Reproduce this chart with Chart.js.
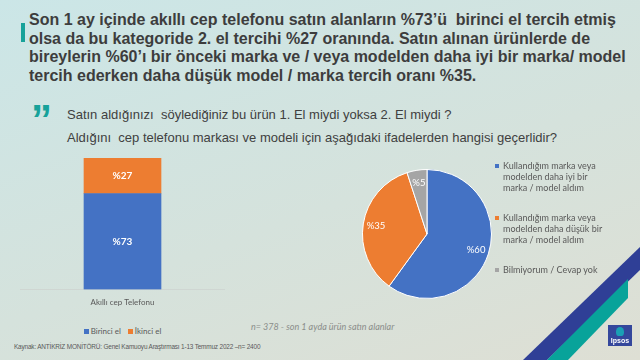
<!DOCTYPE html>
<html><head><meta charset="utf-8">
<script src="https://cdn.jsdelivr.net/npm/chart.js@4.4.0/dist/chart.umd.min.js"></script>
<style>
html,body{margin:0;padding:0;}
body{width:640px;height:360px;overflow:hidden;position:relative;
  background:linear-gradient(160deg,#cbe6e7 0%,#d5e2dc 55%,#dedfd4 100%);
  font-family:"Liberation Sans",Arial,sans-serif;}
.abs{position:absolute;}
#accent{left:21px;top:23px;width:4px;height:19px;background:#17a29a;}
#title{left:29px;top:11px;font-weight:bold;font-size:16px;line-height:18.5px;color:#3d3d3d;white-space:pre;}
#quote{left:31px;top:99px;font-weight:bold;font-size:42px;line-height:42px;color:#17a29a;}
#question{left:67px;top:103px;font-size:13px;line-height:23px;color:#404040;white-space:pre;}
#barLegend{left:40px;top:326px;width:165px;display:flex;justify-content:center;gap:7px;
  font-family:Lato,"Open Sans",sans-serif;font-size:8px;color:#595959;line-height:10px;}
.li{display:flex;align-items:center;}
.sq{display:inline-block;width:5px;height:5px;margin-right:2px;}
#pieLegend{left:495px;top:160px;font-family:Lato,"Open Sans",sans-serif;font-size:9px;line-height:11px;color:#595959;}
.pitem{position:relative;padding-left:8px;margin-bottom:19px;white-space:pre;}
.pitem .sq{position:absolute;left:0;top:3.5px;width:4px;height:4px;}
#nnote{left:251px;top:321px;font-family:Lato,"Open Sans",sans-serif;font-style:italic;font-size:9px;color:#8a8d8a;white-space:pre;}
#source{left:14px;top:343px;font-size:7px;color:#595959;white-space:pre;letter-spacing:-0.2px;transform:scaleX(0.92);transform-origin:0 0;}
#stripeBlue{left:0;top:0;width:640px;height:360px;background:#2f3f96;clip-path:polygon(523px 360px,640px 247px,640px 270px,547px 360px);}
#stripeTeal{left:0;top:0;width:640px;height:360px;background:#08a39a;clip-path:polygon(547px 360px,628px 279px,628px 298px,568px 360px);}
#logo{left:608px;top:325px;width:24px;height:21px;background:#34479c;overflow:hidden;}
#logo .head{position:absolute;left:8px;top:2px;width:8px;height:9px;border-radius:50% 50% 40% 40%;background:#1aa0b5;}
#logo .txt{position:absolute;left:0;width:24px;top:11px;text-align:center;color:#fff;font-weight:bold;font-size:7px;line-height:9px;}
</style></head>
<body>
<div id="accent" class="abs"></div>
<div id="title" class="abs">Son 1 ay içinde akıllı cep telefonu satın alanların %73’ü  birinci el tercih etmiş
olsa da bu kategoride 2. el tercihi %27 oranında. Satın alınan ürünlerde de
bireylerin %60’ı bir önceki marka ve / veya modelden daha iyi bir marka/ model
tercih ederken daha düşük model / marka tercih oranı %35.</div>
<div id="quote" class="abs">”</div>
<div id="question" class="abs">Satın aldığınızı  söylediğiniz bu ürün 1. El miydi yoksa 2. El miydi ?
Aldığını  cep telefonu markası ve modeli için aşağıdaki ifadelerden hangisi geçerlidir?</div>

<canvas id="bar" class="abs" width="205" height="165" style="left:20px;top:150px;"></canvas>
<div id="barLegend" class="abs"></div>

<canvas id="pie" class="abs" width="140" height="140" style="left:357px;top:164px;"></canvas>
<div id="pieLegend" class="abs"></div>

<div id="nnote" class="abs">n= 378 - son 1 ayda ürün satın alanlar</div>
<div id="source" class="abs">Kaynak: ANTİKRİZ MONİTÖRÜ: Genel Kamuoyu Araştırması 1-13 Temmuz 2022 –n= 2400</div>
<div id="stripeBlue" class="abs"></div>
<div id="stripeTeal" class="abs"></div>
<div id="logo" class="abs"><div class="head"></div><div class="txt">Ipsos</div></div>

<script>
// ---- data ----
const barCategories = ['Akıllı cep Telefonu'];
const barSeriesNames = ['Birinci el', 'İkinci el'];
const birinciEl = [73];
const ikinciEl = [27];
const barColors = ['#4472C4', '#ED7D31'];

const pieCategories = [
  'Kullandığım marka veya\nmodelden daha iyi bir\nmarka / model aldım',
  'Kullandığım marka veya\nmodelden daha düşük bir\nmarka / model aldım',
  'Bilmiyorum / Cevap yok'
];
const pieValues = [60, 35, 5];
const pieColors = ['#4472C4', '#ED7D31', '#A5A5A5'];

// ---- value label plugin ----
const labelPlugin = {
  id: 'vlabels',
  afterDatasetsDraw(chart, args, opts) {
    const ctx = chart.ctx;
    ctx.save();
    ctx.fillStyle = '#ffffff';
    ctx.font = opts.font;
    ctx.textAlign = 'center';
    ctx.textBaseline = 'middle';
    chart.data.datasets.forEach((ds, i) => {
      const meta = chart.getDatasetMeta(i);
      meta.data.forEach((el, j) => {
        let x, y;
        if (el.outerRadius !== undefined) {
          const a = (el.startAngle + el.endAngle) / 2;
          const r = el.outerRadius * opts.radiusFactor;
          x = el.x + Math.cos(a) * r;
          y = el.y + Math.sin(a) * r;
        } else {
          const c = el.getCenterPoint();
          x = c.x; y = c.y;
        }
        ctx.fillText('%' + ds.data[j], x, y);
      });
    });
    ctx.restore();
  }
};

new Chart(document.getElementById('bar'), {
  type: 'bar',
  data: {
    labels: barCategories,
    datasets: [
      { label: barSeriesNames[0], data: birinciEl, backgroundColor: barColors[0], barThickness: 77 },
      { label: barSeriesNames[1], data: ikinciEl, backgroundColor: barColors[1], barThickness: 77 }
    ]
  },
  options: {
    responsive: false, animation: false, events: [],
    layout: { padding: { top: 8, left: 0, right: 0, bottom: 0 } },
    plugins: { legend: { display: false }, tooltip: { enabled: false },
      vlabels: { font: 'bold 10px Lato' } },
    scales: {
      x: { stacked: true, grid: { display: false, drawTicks: false },
           border: { display: true, color: '#cfd6d2' },
           ticks: { color: '#595959', font: { family: 'Lato', size: 8 }, padding: 8 } },
      y: { stacked: true, display: false, min: 0, max: 100 }
    }
  },
  plugins: [labelPlugin]
});

new Chart(document.getElementById('pie'), {
  type: 'pie',
  data: {
    labels: pieCategories,
    datasets: [{ data: pieValues, backgroundColor: pieColors, borderColor: '#ffffff', borderWidth: 1 }]
  },
  options: {
    responsive: false, animation: false, events: [],
    layout: { padding: 5 },
    plugins: { legend: { display: false }, tooltip: { enabled: false },
      vlabels: { font: '9.5px Lato', radiusFactor: 0.8 } }
  },
  plugins: [labelPlugin]
});

// ---- HTML legends built from the arrays ----
const bl = document.getElementById('barLegend');
barSeriesNames.forEach((n, i) => {
  const d = document.createElement('div'); d.className = 'li';
  d.innerHTML = '<span class="sq" style="background:' + barColors[i] + '"></span>';
  d.appendChild(document.createTextNode(n));
  bl.appendChild(d);
});
const pl = document.getElementById('pieLegend');
pieCategories.forEach((n, i) => {
  const d = document.createElement('div'); d.className = 'pitem';
  d.innerHTML = '<span class="sq" style="background:' + pieColors[i] + '"></span>';
  d.appendChild(document.createTextNode(n));
  pl.appendChild(d);
});
</script>
</body></html>
